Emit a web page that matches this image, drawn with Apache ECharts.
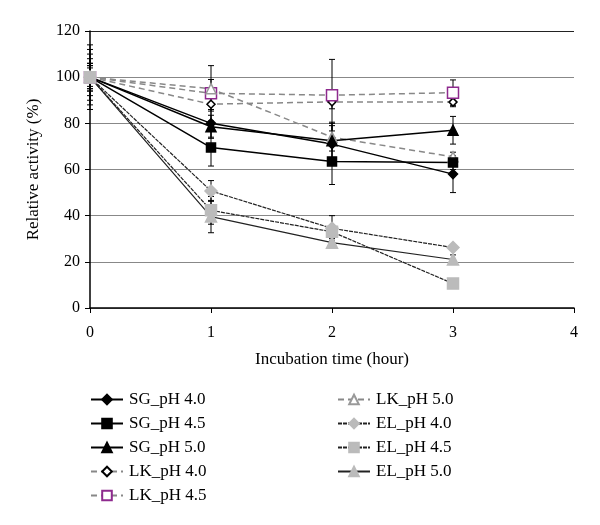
<!DOCTYPE html>
<html>
<head>
<meta charset="utf-8">
<script src="https://cdn.jsdelivr.net/npm/echarts@6/dist/echarts.min.js"></script>
<style>
  html, body { margin: 0; padding: 0; background: #fff; }
  #chart { width: 600px; height: 525px; }
</style>
</head>
<body>
<div id="chart"></div>
<script>
// 时间 (hour)
var hours = [0, 1, 2, 3];
// 各组相对活性 (%)
var sg40 = [100, 80, 71, 58];
var sg45 = [100, 69.5, 63.5, 63];
var sg50 = [100, 78.5, 72.5, 77];
var lk40 = [100, 88.3, 89.3, 89.2];
var lk45 = [100, 93, 92.2, 93.3];
var lk50 = [100, 95, 74, 65.5];
var el40 = [100, 50.7, 34.5, 26.2];
var el45 = [100, 42.3, 33, 10.6];
var el50 = [100, 39.6, 28.3, 21];
// 误差
var sg40Err = [12, 6, 8, 8];
var sg45Err = [10, 8, 10, 3];
var sg50Err = [8, 5, 8, 6];
var lk40Err = [6, 3, 3, 2];
var lk45Err = [14, 12, 15.5, 5.5];
var lk50Err = [5, 4, 6, 2];
var el40Err = [4, 4.5, 5.5, 1];
var el45Err = [6, 6, 3, 1];
var el50Err = [5, 7, 2, 2];
var yTicks = [0, 20, 40, 60, 80, 100, 120];

var chart = echarts.init(document.getElementById('chart'));
var font = 'Liberation Serif, DejaVu Serif, serif';

function pts(vals) {
  return hours.map(function (h, i) { return [h, vals[i]]; });
}
function errPts(vals, errs) {
  return hours.map(function (h, i) { return [h, vals[i] - errs[i], vals[i] + errs[i]]; });
}
function errSeries(vals, errs) {
  return {
    type: 'custom',
    silent: true,
    z: 1,
    renderItem: function (params, api) {
      var lo = api.coord([api.value(0), api.value(1)]);
      var hi = api.coord([api.value(0), api.value(2)]);
      var w = 3;
      var st = { stroke: '#000', lineWidth: 1 };
      return {
        type: 'group',
        children: [
          { type: 'line', shape: { x1: lo[0], y1: lo[1], x2: hi[0], y2: hi[1] }, style: st },
          { type: 'line', shape: { x1: lo[0] - w, y1: lo[1], x2: lo[0] + w, y2: lo[1] }, style: st },
          { type: 'line', shape: { x1: hi[0] - w, y1: hi[1], x2: hi[0] + w, y2: hi[1] }, style: st }
        ]
      };
    },
    encode: { x: 0, y: [1, 2] },
    data: errPts(vals, errs)
  };
}
function lineSeries(name, vals, symbol, size, mColor, mBorder, lColor, lType, lWidth) {
  return {
    name: name,
    type: 'line',
    data: pts(vals),
    symbol: symbol,
    symbolSize: size,
    z: 3,
    itemStyle: { color: mColor, borderColor: mBorder, borderWidth: 1.5 },
    lineStyle: { color: lColor, type: lType, width: lWidth },
    emphasis: { disabled: true }
  };
}

var legendText = { fontSize: 17, fontFamily: font, color: '#000', padding: [0, 0, 0, 1] };

var option = {
  animation: false,
  textStyle: { fontFamily: font, color: '#000' },
  grid: { left: 90, right: 26, top: 31, bottom: 217 },
  xAxis: {
    type: 'value', min: 0, max: 4, interval: 1,
    name: 'Incubation time (hour)', nameLocation: 'middle', nameGap: 43,
    nameTextStyle: { fontSize: 17, fontFamily: font, color: '#000' },
    axisLine: { lineStyle: { color: '#000', width: 1.5 } },
    axisTick: { lineStyle: { color: '#000' }, length: 5 },
    axisLabel: { fontSize: 16, fontFamily: font, color: '#000', margin: 17 },
    splitLine: { show: false }
  },
  yAxis: {
    type: 'value', min: yTicks[0], max: yTicks[yTicks.length - 1], interval: 20,
    name: 'Relative activity (%)', nameLocation: 'middle', nameGap: 48,
    nameTextStyle: { fontSize: 17, fontFamily: font, color: '#000' },
    axisLine: { show: true, lineStyle: { color: '#000', width: 1.5 } },
    axisTick: { show: true, lineStyle: { color: '#000' }, length: 5 },
    axisLabel: { fontSize: 16, fontFamily: font, color: '#000', margin: 10 },
    splitLine: { lineStyle: { color: ['#888', '#888', '#888', '#888', '#888', '#888', '#222'], width: 1.2 } }
  },
  legend: [
    {
      orient: 'vertical', left: 85, top: 386, itemWidth: 32, itemHeight: 12, itemGap: 7,
      textStyle: legendText,
      data: ['SG_pH 4.0', 'SG_pH 4.5', 'SG_pH 5.0', 'LK_pH 4.0', 'LK_pH 4.5']
    },
    {
      orient: 'vertical', left: 332, top: 386, itemWidth: 32, itemHeight: 12, itemGap: 7,
      textStyle: legendText,
      data: ['LK_pH 5.0', 'EL_pH 4.0', 'EL_pH 4.5', 'EL_pH 5.0']
    }
  ],
  series: [
    errSeries(sg40, sg40Err), errSeries(sg45, sg45Err), errSeries(sg50, sg50Err),
    errSeries(lk40, lk40Err), errSeries(lk45, lk45Err), errSeries(lk50, lk50Err),
    errSeries(el40, el40Err), errSeries(el45, el45Err), errSeries(el50, el50Err),
    lineSeries('LK_pH 4.0', lk40, 'diamond', 8, '#fff', '#000', '#888', [6, 4], 1.5),
    lineSeries('LK_pH 4.5', lk45, 'rect', 11, '#fff', '#8e2a8e', '#888', [6, 4], 1.5),
    lineSeries('LK_pH 5.0', lk50, 'triangle', 10, '#fff', '#999', '#888', [6, 4], 1.5),
    lineSeries('SG_pH 4.0', sg40, 'diamond', 9, '#000', '#000', '#000', 'solid', 1.5),
    lineSeries('SG_pH 4.5', sg45, 'rect', 9, '#000', '#000', '#000', 'solid', 1.5),
    lineSeries('SG_pH 5.0', sg50, 'triangle', 10, '#000', '#000', '#000', 'solid', 1.5),
    lineSeries('EL_pH 4.0', el40, 'diamond', 12, '#bbb', '#bbb', '#222', [4, 1], 1.2),
    lineSeries('EL_pH 4.5', el45, 'rect', 11, '#bbb', '#bbb', '#222', [4, 1], 1.2),
    lineSeries('EL_pH 5.0', el50, 'triangle', 11, '#bbb', '#bbb', '#222', 'solid', 1.2)
  ]
};
chart.setOption(option);
</script>
</body>
</html>
